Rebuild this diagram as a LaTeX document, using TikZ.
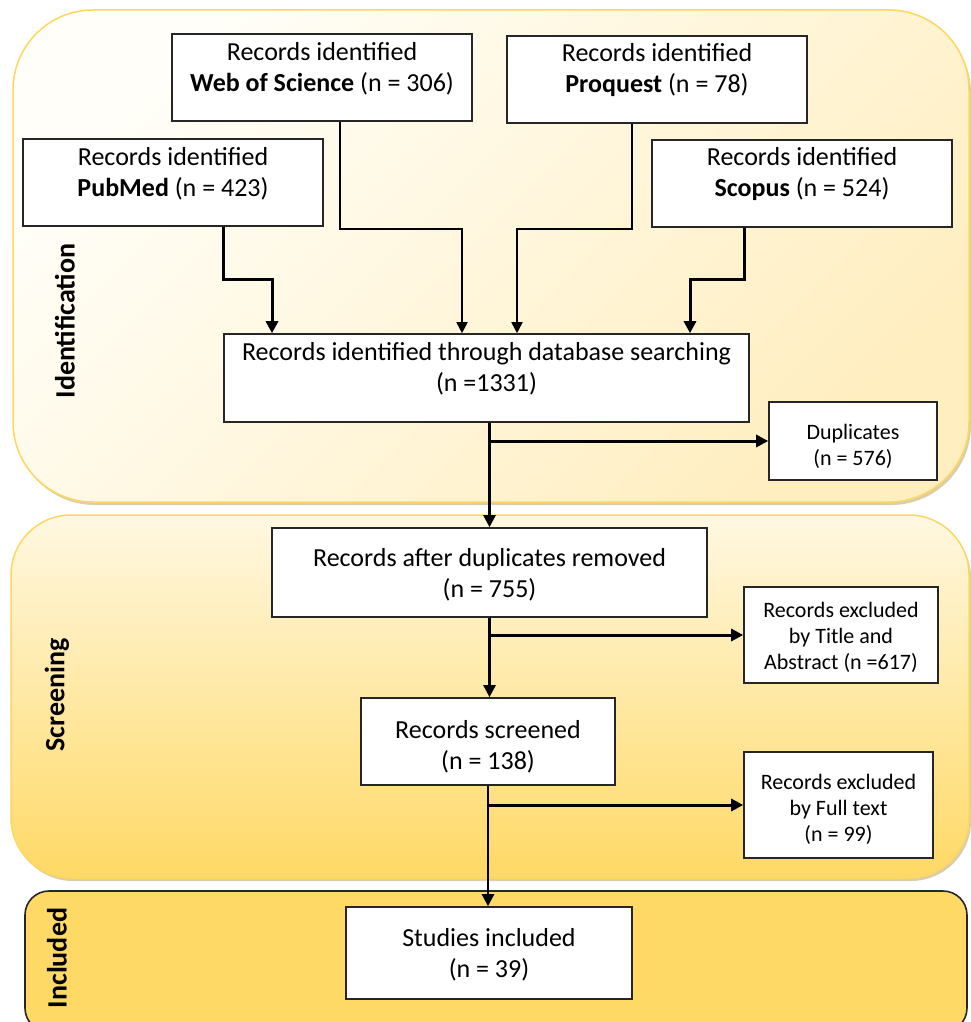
\documentclass[tikz,border=0pt]{standalone}
\usepackage{fontspec}
\setmainfont{Carlito}
\usetikzlibrary{arrows.meta}
\definecolor{panelborder}{HTML}{FFD75E}
\definecolor{gold}{HTML}{FFD966}
\definecolor{paleA}{HTML}{FFFEF8}
\definecolor{paleB}{HTML}{FFEEC0}
\definecolor{paleC}{HTML}{FFF8E2}
\definecolor{shadowc}{HTML}{C9B888}
\definecolor{boxline}{HTML}{262626}
\begin{document}
\begin{tikzpicture}[x=1pt,y=-1pt,
 box/.style={draw=boxline, line width=1.6pt, fill=white, inner sep=0pt},
 txt/.style={align=center, font=\fontsize{26}{31}\selectfont, inner sep=0pt},
 smalltxt/.style={align=center, font=\fontsize{22}{26}\selectfont, inner sep=0pt},
 phase/.style={rotate=90, font=\bfseries\fontsize{28}{30}\selectfont, inner sep=0pt},
 thinarrow/.style={line width=1.8pt, -{Triangle[length=11pt,width=11pt]}},
 medarrow/.style={line width=2.5pt, -{Triangle[length=12pt,width=12pt]}},
 thickarrow/.style={line width=3pt, -{Triangle[length=12pt,width=12pt]}},
]
\useasboundingbox (0,0) rectangle (970,1022);
% panels
\fill[shadowc, opacity=0.7, rounded corners=80] (15,13) rectangle (971,505);
\path[draw=panelborder, line width=1.5pt, top color=paleA, bottom color=paleB, shading angle=45, rounded corners=80] (13,10) rectangle (969,502);
\fill[shadowc, opacity=0.7, rounded corners=60] (13,518) rectangle (971,881);
\path[draw=panelborder, line width=1.5pt, top color=paleC, bottom color=gold, rounded corners=60] (11,515) rectangle (969,878);
\path[draw=boxline, line width=1.6pt, fill=gold, rounded corners=24] (25,891) rectangle (967,1032);
% phase labels
\node[phase] (lid) at (65,321) {Identification};
\node[phase] (lsc) at (57,695) {Screening};
\node[phase] (lin) at (57,958) {Included};
% boxes
\node[box, minimum width=300, minimum height=87] (wos) at (322,77.5) {};
\node[txt] (wost) at (322,68.5) {Records identified\\\textbf{Web of Science} (n = 306)};
\node[box, minimum width=300, minimum height=87] (pub) at (173,182.5) {};
\node[txt] (pubt) at (173,173.5) {Records identified\\\textbf{PubMed} (n = 423)};
\node[box, minimum width=300, minimum height=87] (proq) at (657,79.5) {};
\node[txt] (proqt) at (657,70.5) {Records identified\\\textbf{Proquest} (n = 78)};
\node[box, minimum width=300, minimum height=87] (scop) at (802,183.5) {};
\node[txt] (scopt) at (802,174.5) {Records identified\\\textbf{Scopus} (n = 524)};
\node[box, minimum width=525, minimum height=88] (main) at (486.5,378) {};
\node[txt] (maint) at (486.5,369) {Records identified through database searching\\(n =1331)};
\node[box, minimum width=168, minimum height=78] (dup) at (853,441) {};
\node[smalltxt] (dupt) at (853,446) {Duplicates\\(n = 576)};
\node[box, minimum width=435, minimum height=89] (after) at (489.5,572.5) {};
\node[txt] (aftert) at (489.5,575) {Records after duplicates removed\\(n = 755)};
\node[box, minimum width=194, minimum height=96] (exta) at (841,635) {};
\node[smalltxt] (extat) at (841,637) {Records excluded\\by Title and\\Abstract (n =617)};
\node[box, minimum width=254, minimum height=87] (scr) at (488,741.5) {};
\node[txt] (scrt) at (488,746.5) {Records screened\\(n = 138)};
\node[box, minimum width=189, minimum height=106] (extf) at (838.5,805) {};
\node[smalltxt] (extft) at (838.5,809) {Records excluded\\by Full text\\(n = 99)};
\node[box, minimum width=286, minimum height=92] (incl) at (489,953) {};
\node[txt] (inclt) at (489,955) {Studies included\\(n = 39)};
% connectors
\draw[thickarrow] ([xshift=50]pub.south) -- ++(0,53) -| ([xshift=-214.5]main.north);
\draw[thinarrow] ([xshift=18]wos.south) -- ++(0,107) -| ([xshift=-24.5]main.north);
\draw[thinarrow] ([xshift=-25]proq.south) -- ++(0,105) -| ([xshift=30.5]main.north);
\draw[thickarrow] ([xshift=-58]scop.south) -- ++(0,52) -| ([xshift=203.5]main.north);
\draw[medarrow] (main.south -| after.north) -- (after.north);
\draw[thickarrow] (dup.west -| after.north) -- (dup.west);
\draw[medarrow] (after.south) -- (after.south |- scr.north);
\draw[thickarrow] (exta.west -| after.south) -- (exta.west);
\draw[medarrow] (scr.south) -- (scr.south |- incl.north);
\draw[thickarrow] (extf.west -| scr.south) -- (extf.west);
\end{tikzpicture}
\end{document}
